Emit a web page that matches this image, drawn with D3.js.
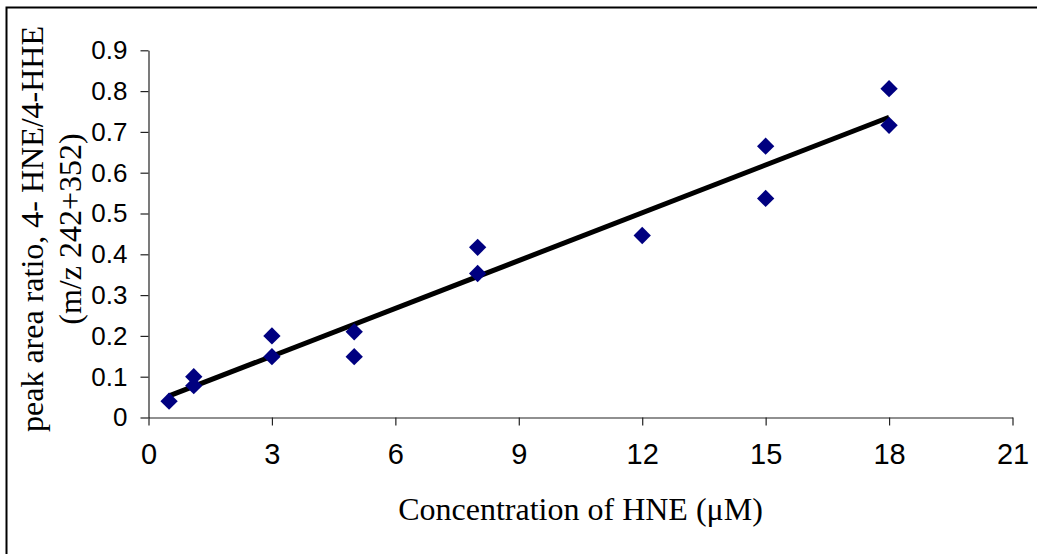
<!DOCTYPE html>
<html>
<head>
<meta charset="utf-8">
<script src="https://cdnjs.cloudflare.com/ajax/libs/d3/7.8.5/d3.min.js"></script>
<style>
    html, body { margin: 0; padding: 0; background: #fff; overflow: hidden; }
</style>
</head>
<body>
<div id="chart"></div>
<script>
// HNE standard curve: concentration (uM) vs peak area ratio
var concentration = [0.5, 1.1, 1.1, 3, 3, 5, 5, 8, 8, 12, 15, 15, 18, 18];
var peakRatio = [0.04, 0.10, 0.078, 0.20, 0.149, 0.21, 0.149, 0.417, 0.353, 0.446, 0.665, 0.537, 0.806, 0.716];
var xTicks = [0, 3, 6, 9, 12, 15, 18, 21];
var yTicks = [0, 0.1, 0.2, 0.3, 0.4, 0.5, 0.6, 0.7, 0.8, 0.9];
var xTitle = 'Concentration of HNE (\u03BCM)';
var yTitleLines = ['peak area ratio, 4- HNE/4-HHE', '(m/z 242+352)'];

var attrs = {
    svgWidth: 1037,
    svgHeight: 554,
    plotLeft: 148.5,
    plotRight: 1012.5,
    plotTop: 50.3,
    plotBottom: 417.5,
    markerColor: '#000080',
    axisColor: '#222',
    tickFont: 'Arial, "Liberation Sans", sans-serif',
    titleFont: '"Times New Roman", "Liberation Serif", serif'
};

var svg = d3.select('#chart').append('svg')
    .attr('width', attrs.svgWidth)
    .attr('height', attrs.svgHeight);

// chart area frame (runs off the right and bottom edges)
svg.append('rect')
    .attr('x', 6.5)
    .attr('y', 7.5)
    .attr('width', 1200)
    .attr('height', 700)
    .attr('fill', '#fff')
    .attr('stroke', '#000')
    .attr('stroke-width', 2);

var x = d3.scaleLinear().domain([0, 21]).range([attrs.plotLeft, attrs.plotRight]);
var y = d3.scaleLinear().domain([0, 0.9]).range([attrs.plotBottom, attrs.plotTop]);

// axes
var xAxis = svg.append('g')
    .attr('transform', 'translate(0,' + attrs.plotBottom + ')')
    .call(d3.axisBottom(x).tickValues(xTicks).tickSize(8).tickPadding(18).tickSizeOuter(0));

var yAxis = svg.append('g')
    .attr('transform', 'translate(' + attrs.plotLeft + ',0)')
    .call(d3.axisLeft(y).tickValues(yTicks).tickSize(8).tickPadding(13).tickSizeOuter(0)
        .tickFormat(function (d) { return d === 0 ? '0' : d3.format('.1f')(d); }));

[xAxis, yAxis].forEach(function (g) {
    g.selectAll('path, line').attr('stroke', attrs.axisColor).attr('stroke-width', 1.2);
    g.selectAll('text').attr('fill', '#000').attr('font-family', attrs.tickFont);
});
xAxis.selectAll('text').attr('font-size', 29);
yAxis.selectAll('text').attr('font-size', 26);

// least squares trend line over the measured range
var n = concentration.length;
var mx = d3.mean(concentration), my = d3.mean(peakRatio);
var sxy = 0, sxx = 0;
for (var i = 0; i < n; i++) {
    sxy += (concentration[i] - mx) * (peakRatio[i] - my);
    sxx += (concentration[i] - mx) * (concentration[i] - mx);
}
var slope = sxy / sxx, intercept = my - slope * mx;
var xr = d3.extent(concentration);

svg.append('line')
    .attr('x1', x(xr[0])).attr('y1', y(intercept + slope * xr[0]))
    .attr('x2', x(xr[1])).attr('y2', y(intercept + slope * xr[1]))
    .attr('stroke', '#000')
    .attr('stroke-width', 5);

// diamond markers
var diamond = d3.symbol().type(d3.symbolSquare).size(150);
svg.append('g').selectAll('path')
    .data(concentration.map(function (c, i) { return [c, peakRatio[i]]; }))
    .join('path')
    .attr('d', diamond)
    .attr('transform', function (d) { return 'translate(' + x(d[0]) + ',' + y(d[1]) + ') rotate(45)'; })
    .attr('fill', attrs.markerColor);

// axis titles
svg.append('text')
    .attr('x', (attrs.plotLeft + attrs.plotRight) / 2)
    .attr('y', 520)
    .attr('text-anchor', 'middle')
    .attr('font-family', attrs.titleFont)
    .attr('font-size', 32)
    .attr('fill', '#000')
    .text(xTitle);

var yTitle = svg.append('text')
    .attr('transform', 'translate(0,229) rotate(-90)')
    .attr('text-anchor', 'middle')
    .attr('font-family', attrs.titleFont)
    .attr('font-size', 32)
    .attr('fill', '#000');

yTitle.selectAll('tspan')
    .data(yTitleLines)
    .join('tspan')
    .attr('x', 0)
    .attr('y', function (d, i) { return 43 + i * 38; })
    .text(function (d) { return d; });
</script>
</body>
</html>
